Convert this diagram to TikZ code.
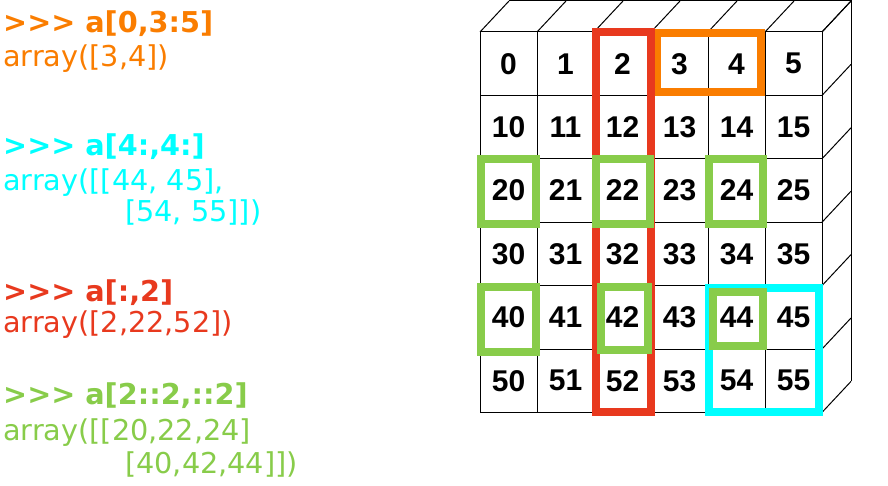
\documentclass[tikz,border=0pt]{standalone}
\usepackage{fontspec}
\setmainfont{DejaVu Sans}
\newfontfamily\cellfont{Liberation Sans}
\usepackage{xcolor}
\definecolor{rowcol}{HTML}{FA7D00}
\definecolor{colcol}{HTML}{E8391E}
\definecolor{blockcol}{HTML}{00FFFF}
\definecolor{stepcol}{HTML}{88CC4A}
\newcommand{\pyprompt}{>{}>{}>}
\tikzset{
  cell/.style={draw=black, line width=1pt, minimum width=57pt, minimum height=63.4pt,
    inner sep=0pt, font=\cellfont\bfseries\fontsize{30}{30}\selectfont},
  cubeLine/.style={line width=1pt, draw=black},
  cmd/.style={anchor=base west, inner sep=0pt, font=\bfseries\fontsize{28.7}{34}\selectfont},
  result/.style={anchor=base west, inner sep=0pt, font=\fontsize{28.7}{34}\selectfont},
  hilite/.style={line width=8pt}
}

\begin{document}
\begin{tikzpicture}[x=1pt,y=-1pt]
\useasboundingbox (0,0) rectangle (888,486);

% depth of the cubes
\foreach \i in {0,...,6} \draw[cubeLine] (480+57*\i,32) -- ++(29,-31);
\foreach \i in {0,...,6} \draw[cubeLine] (822,32+63.4*\i) -- ++(29,-31);
\draw[cubeLine] (509,1) -- (851,1) -- (851,381.4);

% front faces
\foreach \r in {0,...,5}
  \foreach \c in {0,...,5} {
    \pgfmathtruncatemacro{\val}{10*\r+\c}
    \node[cell] (c\r\c) at (508.5+57*\c, 63.7+63.4*\r) {\val};
  }

% a[0,3:5]
\draw[hilite, draw=rowcol] (657,33) rectangle (761,92);
% a[:,2]
\draw[hilite, draw=colcol] (596,32) rectangle (651,411.5);
% a[4:,4:]
\draw[hilite, draw=blockcol] (709,288) rectangle (819,411.5);
% a[2::2,::2]
\draw[hilite, draw=stepcol] (481,159.5) rectangle (535.5,224);
\draw[hilite, draw=stepcol] (596,159.5) rectangle (650,224);
\draw[hilite, draw=stepcol] (709,159.5) rectangle (762.5,224);
\draw[hilite, draw=stepcol] (481,286.5) rectangle (535.5,351.5);
\draw[hilite, draw=stepcol] (601,286.5) rectangle (647.5,349.5);
\draw[hilite, draw=stepcol] (713,291.5) rectangle (762.5,346);

% the code on the left
\node[cmd, text=rowcol] (rowIn) at (3,33) {\pyprompt{} a[0,3:5]};
\node[result, text=rowcol] (rowOut) at (3,67) {array([3,4])};

\node[cmd, text=blockcol] (blockIn) at (3,156) {\pyprompt{} a[4:,4:]};
\node[result, text=blockcol] (blockOut) at (3,191) {array([[44, 45],};
\node[result, text=blockcol] (blockOutB) at (125,222) {[54, 55]])};

\node[cmd, text=colcol] (colIn) at (3,301) {\pyprompt{} a[:,2]};
\node[result, text=colcol] (colOut) at (3,332) {array([2,22,52])};

\node[cmd, text=stepcol] (stepIn) at (3,404) {\pyprompt{} a[2::2,::2]};
\node[result, text=stepcol] (stepOut) at (3,440) {array([[20,22,24]};
\node[result, text=stepcol] (stepOutB) at (125,473) {[40,42,44]])};
\end{tikzpicture}
\end{document}
